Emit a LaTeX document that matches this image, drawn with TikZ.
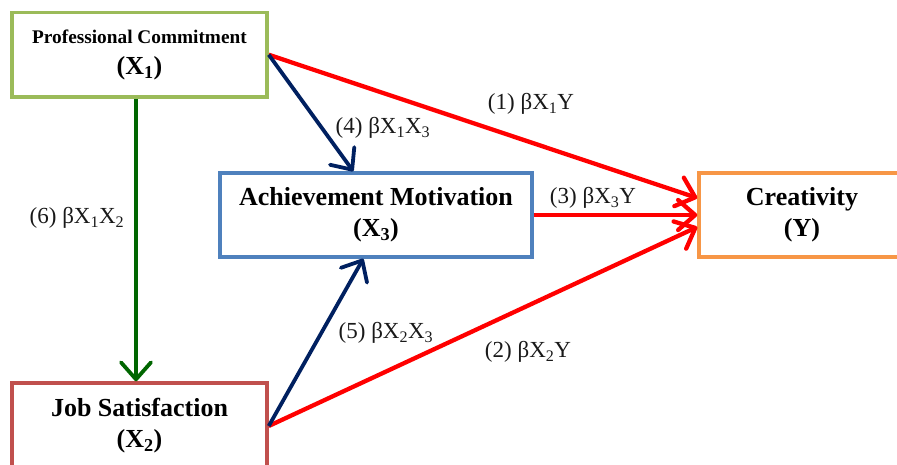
\documentclass[tikz,border=0pt]{standalone}
\usepackage{fontspec}
\setmainfont{Liberation Serif}
\usetikzlibrary{arrows.meta}
\definecolor{bxgreen}{HTML}{9BBB59}
\definecolor{bxred}{HTML}{C0504D}
\definecolor{bxblue}{HTML}{4F81BD}
\definecolor{bxorange}{HTML}{F79646}
\definecolor{arred}{HTML}{FF0000}
\definecolor{arnavy}{HTML}{002060}
\definecolor{argreen}{HTML}{006600}
\tikzset{
  varbox/.style={draw, line width=3.5pt, fill=white, rectangle, inner sep=0pt,
    align=center, font=\fontsize{26}{31}\selectfont\bfseries},
  pathline/.style={line width=#1, -{Straight Barb[length=17pt,width=30pt,line join=round,line cap=round]}},
  redpath/.style={pathline=4.3pt, draw=arred},
  navypath/.style={pathline=3.8pt, draw=arnavy},
  greenpath/.style={pathline=3.8pt, draw=argreen},
  plabel/.style={font=\fontsize{23}{27}\selectfont, text=black!90, inner sep=0pt}
}
\begin{document}
\begin{tikzpicture}[x=1pt,y=-1pt]
\useasboundingbox (0,0) rectangle (897,465);
% boxes
\node[varbox, draw=bxgreen, minimum width=255pt, minimum height=84.5pt] (x1) at (139.5,54.75)
  {{\fontsize{19.3}{30}\selectfont Professional Commitment}\\(X\textsubscript{1})};
\node[varbox, draw=bxred, minimum width=255pt, minimum height=86pt] (x2) at (139.5,426)
  {Job Satisfaction\\(X\textsubscript{2})};
\node[varbox, draw=bxblue, minimum width=312pt, minimum height=84pt] (x3) at (376,215)
  {Achievement Motivation\\(X\textsubscript{3})};
\node[varbox, draw=bxorange, minimum width=206pt, minimum height=84pt] (y) at (802,215)
  {Creativity\\(Y)};
% anchor points
\coordinate (x3top) at ([xshift=135pt]x3.north west);
\coordinate (x3bot) at ([xshift=145pt]x3.south west);
\coordinate (yin1) at ([yshift=17pt]y.west);
\coordinate (yin2) at ([yshift=-12pt]y.west);
\coordinate (g1) at ([xshift=-3.5pt]x1.south);
\coordinate (g2) at ([xshift=-3.5pt]x2.north);
% connectors
\draw[greenpath] (g1) -- (g2);
\draw[redpath] (x1.east) -- (yin1);
\draw[navypath] (x1.east) -- (x3top);
\draw[redpath] (x3.east) -- (y.west);
\draw[redpath] (x2.east) -- (yin2);
\draw[navypath] (x2.east) -- (x3bot);
% labels
\node[plabel] (l6) at (77,218) {(6) βX\textsubscript{1}X\textsubscript{2}};
\node[plabel] (l4) at (383,128) {(4) βX\textsubscript{1}X\textsubscript{3}};
\node[plabel] (l1) at (531,104) {(1) βX\textsubscript{1}Y};
\node[plabel] (l3) at (593,198) {(3) βX\textsubscript{3}Y};
\node[plabel] (l5) at (386,333) {(5) βX\textsubscript{2}X\textsubscript{3}};
\node[plabel] (l2) at (528,352) {(2) βX\textsubscript{2}Y};
\end{tikzpicture}
\end{document}
